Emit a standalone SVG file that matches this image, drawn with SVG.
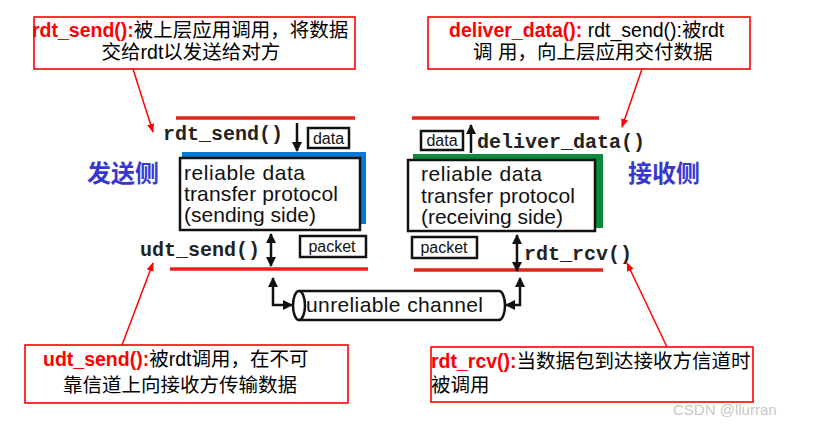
<svg xmlns="http://www.w3.org/2000/svg" width="814" height="425" viewBox="0 0 814 425">
<defs>
<style>
.cbox{fill:#fff;stroke:#ff0000;stroke-width:1.6}
.ct{font-family:"Liberation Sans","Noto Sans CJK SC",sans-serif;font-size:19.5px;fill:#000}
.fn{fill:#ff0000;font-weight:bold}
.red{stroke:#e0241b;stroke-width:3.5;fill:none}
.call{stroke:#ff0000;stroke-width:1.5;fill:none}
.mono{font-family:"Liberation Mono",monospace;font-size:20px;font-weight:bold;fill:#222}
.box{fill:#fff;stroke:#111;stroke-width:2.5}
.lbl{font-family:"Liberation Sans",sans-serif;font-size:16px;fill:#111}
.proto{font-family:"Liberation Sans",sans-serif;font-size:21px;fill:#111}
.side{font-family:"Noto Sans CJK SC",sans-serif;font-size:24px;font-weight:bold;fill:#3838d0}
.arr{stroke:#111;stroke-width:2.5;fill:none}
</style>
<marker id="ah" viewBox="0 0 10 10" refX="9" refY="5" markerWidth="4" markerHeight="4" orient="auto-start-reverse" markerUnits="strokeWidth">
<path d="M0,0 L10,5 L0,10 z" fill="#111"/>
</marker>
<marker id="rah" viewBox="0 0 10 10" refX="9" refY="5" markerWidth="6" markerHeight="6" orient="auto" markerUnits="strokeWidth">
<path d="M0,1 L10,5 L0,9 z" fill="#ff0000"/>
</marker>
</defs>
<rect width="814" height="425" fill="#fff"/>

<g id="callout-rdt-send">
<rect class="cbox" x="34" y="17" width="321" height="52"/>
<text class="ct" x="32" y="37"><tspan class="fn">rdt_send():</tspan>被上层应用调用，将数据</text>
<text class="ct" x="191" y="59" text-anchor="middle">交给rdt以发送给对方</text>
</g>

<g id="callout-deliver-data">
<rect class="cbox" x="428" y="17" width="322" height="52"/>
<text class="ct" x="449" y="37"><tspan class="fn">deliver_data():</tspan> rdt_send():被rdt</text>
<text class="ct" x="473" y="59">调 用，向上层应用交付数据</text>
</g>

<g id="callout-udt-send">
<rect class="cbox" x="25" y="345" width="323" height="58"/>
<text class="ct" x="43" y="366"><tspan class="fn">udt_send():</tspan>被rdt调用，在不可</text>
<text class="ct" x="63" y="392">靠信道上向接收方传输数据</text>
</g>

<g id="callout-rdt-rcv">
<rect class="cbox" x="431" y="347" width="322" height="55"/>
<text class="ct" x="431" y="368"><tspan class="fn">rdt_rcv():</tspan>当数据包到达接收方信道时</text>
<text class="ct" x="431" y="392">被调用</text>
</g>

<g id="sender">
<line class="red" x1="176" y1="118" x2="355" y2="118"/>
<line class="red" x1="170" y1="269" x2="368" y2="269"/>
<text class="mono" x="163" y="140">rdt_send()</text>
<text class="mono" x="140" y="256">udt_send()</text>
<text class="side" x="87" y="182">发送侧</text>
<rect x="182" y="152" width="184" height="72" fill="#0a78d2"/>
<rect class="box" x="180" y="158" width="180" height="72"/>
<text class="proto" x="184" y="180" textLength="121">reliable data</text>
<text class="proto" x="184" y="201" textLength="154">transfer protocol</text>
<text class="proto" x="184" y="222" textLength="132">(sending side)</text>
<rect class="box" x="308" y="128" width="41" height="20" stroke-width="2"/>
<text class="lbl" x="328.5" y="143.5" text-anchor="middle">data</text>
<rect class="box" x="300" y="236" width="66" height="21" stroke-width="2"/>
<text class="lbl" x="332" y="251.5" text-anchor="middle">packet</text>
</g>

<g id="receiver">
<line class="red" x1="412" y1="118" x2="599" y2="118"/>
<line class="red" x1="414" y1="270" x2="603" y2="270"/>
<text class="mono" x="477" y="148">deliver_data()</text>
<text class="mono" x="524" y="260">rdt_rcv()</text>
<text class="side" x="628" y="182">接收侧</text>
<rect x="413" y="154" width="190" height="74" fill="#0b8a3c"/>
<rect class="box" x="408" y="160" width="187" height="71"/>
<text class="proto" x="421" y="181" textLength="121">reliable data</text>
<text class="proto" x="421" y="203" textLength="154">transfer protocol</text>
<text class="proto" x="421" y="224" textLength="142">(receiving side)</text>
<rect class="box" x="421" y="131" width="42" height="19" stroke-width="2"/>
<text class="lbl" x="442" y="146" text-anchor="middle">data</text>
<rect class="box" x="412" y="237" width="65" height="21" stroke-width="2"/>
<text class="lbl" x="444" y="252.5" text-anchor="middle">packet</text>
</g>

<g id="channel">
<path d="M299,291 L499,291 A6,14.5 0 0 1 499,320 L299,320" fill="#fff" stroke="#111" stroke-width="2.5"/>
<ellipse cx="299" cy="305.5" rx="6" ry="14.5" fill="#fff" stroke="#111" stroke-width="2.5"/>
<text class="proto" x="306" y="312" textLength="177">unreliable channel</text>
</g>

<g id="connectors">
<line class="arr" x1="297" y1="123" x2="297" y2="151" marker-end="url(#ah)"/>
<line class="arr" x1="471" y1="153" x2="471" y2="125" marker-end="url(#ah)"/>
<line class="arr" x1="271" y1="234" x2="271" y2="266" marker-start="url(#ah)" marker-end="url(#ah)"/>
<line class="arr" x1="517" y1="235" x2="517" y2="271" marker-start="url(#ah)" marker-end="url(#ah)"/>
<path class="arr" d="M273,278 L273,305 L292,305" marker-start="url(#ah)" marker-end="url(#ah)"/>
<path class="arr" d="M520,278 L520,305 L506,305" marker-start="url(#ah)" marker-end="url(#ah)"/>
<line class="call" x1="133" y1="69" x2="153" y2="132" marker-end="url(#rah)"/>
<line class="call" x1="642" y1="69" x2="622" y2="127" marker-end="url(#rah)"/>
<line class="call" x1="122" y1="345" x2="153" y2="263" marker-end="url(#rah)"/>
<line class="call" x1="667" y1="347" x2="627" y2="263" marker-end="url(#rah)"/>
</g>

<text x="673" y="415" font-family="Liberation Sans,sans-serif" font-size="15" fill="#c8c8c8">CSDN @llurran</text>
</svg>
